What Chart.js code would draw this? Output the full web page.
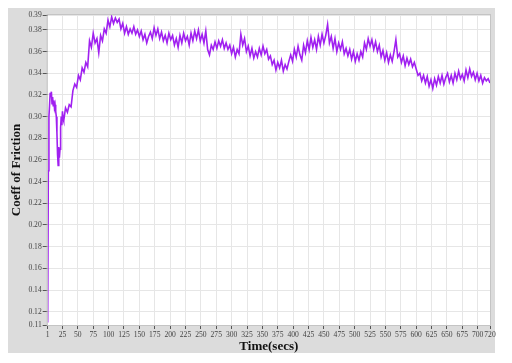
<!DOCTYPE html>
<html><head><meta charset="utf-8">
<script src="https://cdn.jsdelivr.net/npm/chart.js@4"></script>
<style>html,body{margin:0;padding:0;background:#fff}#wrap{width:512px;height:363px}</style>
</head><body><div id="wrap"><canvas id="c" width="512" height="363"></canvas></div>
<script>
const times = [1,2,3,4,5,6,7,8,9,10,11,12,13,14,15,16,17,18,19,20,21,22,23,24,25,26,
27,30,33,36,39,42,45,48,51,54,57,60,63,66,69,72,75,78,81,84,87,90,93,96,99,102,105,108,111,114,117,120,
123,126,129,132,135,138,141,144,147,150,153,156,159,162,165,168,171,174,177,180,183,186,189,192,195,198,
201,204,207,210,213,216,219,222,225,228,231,234,237,240,243,246,249,252,255,258,261,264,267,270,273,276,
279,282,285,288,291,294,297,300,303,306,309,312,315,318,321,324,327,330,333,336,339,342,345,348,351,354,
357,360,363,366,369,372,375,378,381,384,387,390,393,396,399,402,405,408,411,414,417,420,423,426,429,432,
435,438,441,444,447,450,453,456,459,462,465,468,471,474,477,480,483,486,489,492,495,498,501,504,507,510,
513,516,519,522,525,528,531,534,537,540,543,546,549,552,555,558,561,564,567,570,573,576,579,582,585,588,
591,594,597,600,603,606,609,612,615,618,621,624,627,630,633,636,639,642,645,648,651,654,657,660,663,666,
669,672,675,678,681,684,687,690,693,696,699,702,705,708,711,714,717,720];
const friction = [0.11,0.25,0.30,0.31,0.322,0.318,0.323,0.312,0.318,0.31,0.315,0.308,0.311,0.305,0.30,0.285,0.265,0.255,0.272,0.262,0.27,0.29,0.30,0.292,0.305,0.298,
0.296,0.308,0.304,0.311,0.309,0.324,0.33,0.327,0.338,0.334,0.345,0.341,0.35,0.346,0.37,0.364,0.377,0.368,0.372,0.359,0.375,0.37,0.381,0.377,0.389,0.383,0.392,0.386,0.391,0.387,0.39,0.381,
0.386,0.377,0.383,0.376,0.381,0.377,0.383,0.376,0.38,0.374,0.379,0.371,0.376,0.368,0.374,0.378,0.372,0.382,0.375,0.381,0.372,0.378,0.37,0.375,0.368,0.377,
0.371,0.375,0.366,0.372,0.364,0.375,0.368,0.377,0.37,0.374,0.366,0.377,0.37,0.379,0.372,0.38,0.37,0.376,0.368,0.379,0.362,0.357,0.366,0.362,0.369,0.363,
0.37,0.365,0.371,0.363,0.368,0.362,0.366,0.358,0.364,0.355,0.362,0.358,0.376,0.366,0.372,0.36,0.365,0.356,0.363,0.354,0.36,0.355,0.363,0.357,0.365,0.358,
0.362,0.353,0.356,0.348,0.352,0.343,0.35,0.345,0.352,0.342,0.348,0.344,0.351,0.357,0.351,0.362,0.355,0.365,0.357,0.352,0.366,0.359,0.37,0.362,0.373,0.364,
0.371,0.362,0.374,0.366,0.376,0.368,0.375,0.385,0.368,0.374,0.363,0.372,0.36,0.368,0.362,0.369,0.358,0.363,0.356,0.362,0.353,0.36,0.351,0.358,0.352,0.36,
0.355,0.368,0.362,0.372,0.365,0.371,0.362,0.369,0.36,0.366,0.355,0.361,0.352,0.359,0.35,0.357,0.351,0.36,0.371,0.355,0.358,0.35,0.356,0.347,0.354,0.348,
0.353,0.346,0.35,0.344,0.338,0.34,0.333,0.338,0.331,0.337,0.328,0.334,0.326,0.335,0.329,0.337,0.331,0.338,0.33,0.336,0.34,0.332,0.338,0.331,0.34,0.334,
0.342,0.335,0.339,0.333,0.343,0.336,0.344,0.337,0.341,0.334,0.34,0.333,0.338,0.331,0.336,0.333,0.335,0.331];
const xTickValues = [1,25,50,75,100,125,150,175,200,225,250,275,300,325,350,375,400,425,450,475,500,525,550,575,600,625,650,675,700,720];
const yMin = 0.1077, yMax = 0.3938;
const yTickValues = [yMin,0.12,0.14,0.16,0.18,0.20,0.22,0.24,0.26,0.28,0.30,0.32,0.34,0.36,0.38,yMax];

const panel = {
  id:'panel',
  beforeDraw(chart){
    const ctx = chart.ctx, a = chart.chartArea;
    ctx.save();
    ctx.fillStyle = '#ffffff'; ctx.fillRect(0,0,chart.width,chart.height);
    ctx.fillStyle = '#dcdcdc'; ctx.fillRect(8,8,487,345);
    ctx.fillStyle = '#ffffff'; ctx.fillRect(a.left,a.top,a.right-a.left,a.bottom-a.top);
    ctx.restore();
  },
  afterDatasetsDraw(chart){
    const ctx = chart.ctx, a = chart.chartArea;
    ctx.save();
    ctx.strokeStyle = '#c4c4c4'; ctx.lineWidth = 1;
    ctx.strokeRect(a.left-0.5,a.top-0.5,a.right-a.left+1,a.bottom-a.top+1);
    ctx.restore();
  }
};

new Chart(document.getElementById('c'), {
  type:'line',
  data:{ datasets:[{ data: times.map((t,i)=>({x:t,y:friction[i]})), borderColor:'#a020f0', borderWidth:1.6, pointRadius:0, tension:0, fill:false }] },
  options:{
    responsive:false, animation:false,
    layout:{ padding:{ left:0, right:22, top:15, bottom:0 } },
    plugins:{ legend:{display:false}, tooltip:{enabled:false} },
    scales:{
      x:{ type:'linear', min:1, max:720,
        afterBuildTicks(s){ s.ticks = xTickValues.map(v=>({value:v})); },
        afterFit(s){ s.height = 38; },
        grid:{ color:'#e6e6e6', tickColor:'#555', tickLength:4 },
        border:{ display:false },
        ticks:{ autoSkip:false, maxRotation:0, padding:1, color:'#444', font:{family:'Liberation Serif', size:7.6}, callback:v=>String(v) },
        title:{ display:true, text:'Time(secs)', color:'#111', font:{family:'Liberation Serif', size:13, weight:'bold'}, padding:{top:0,bottom:9} }
      },
      y:{ type:'linear', min:yMin, max:yMax,
        afterBuildTicks(s){ s.ticks = yTickValues.map(v=>({value:v})); },
        afterFit(s){ s.width = 47.7; },
        grid:{ color:'#e6e6e6', tickColor:'#555', tickLength:5 },
        border:{ display:false },
        ticks:{ autoSkip:false, padding:1, color:'#444', font:{family:'Liberation Serif', size:7.6}, callback:v=>v.toFixed(2) },
        title:{ display:true, text:'Coeff of Friction', color:'#111', font:{family:'Liberation Serif', size:13, weight:'bold'}, padding:{top:9,bottom:0} }
      }
    }
  },
  plugins:[panel]
});
</script></body></html>
